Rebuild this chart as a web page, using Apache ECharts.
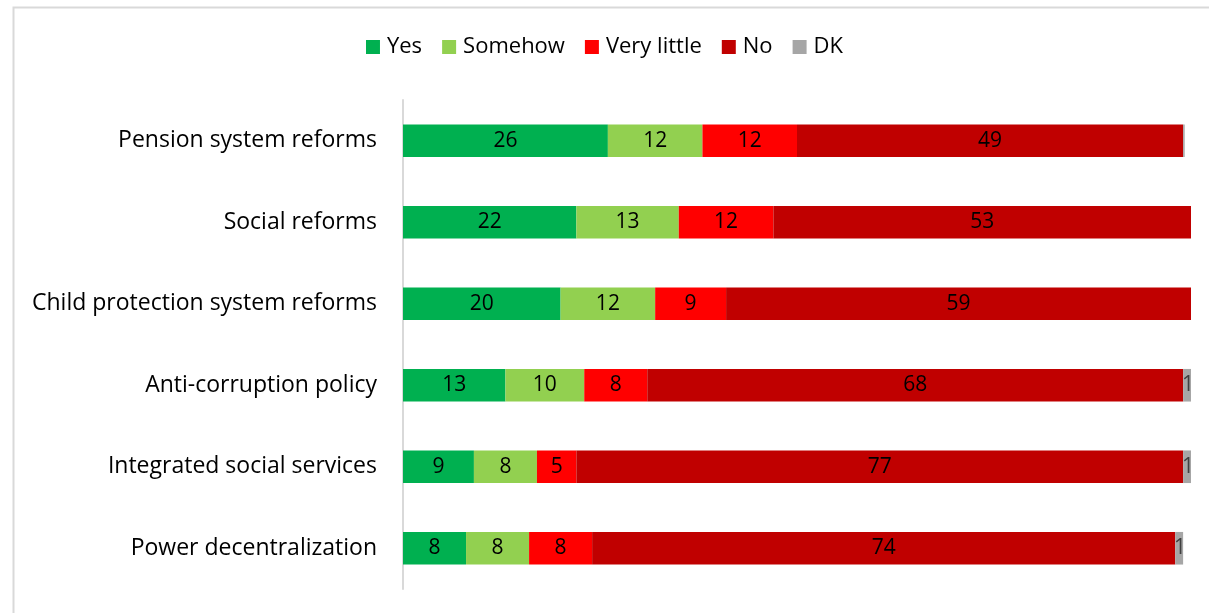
<!DOCTYPE html>
<html>
<head>
<meta charset="utf-8">
<script src="https://cdn.jsdelivr.net/npm/echarts@6/dist/echarts.min.js"></script>
<style>
  html, body { margin: 0; padding: 0; background: #ffffff; }
  #chart { width: 1209px; height: 613px; }
</style>
</head>
<body>
<div id="chart"></div>
<script>
// Survey results, share of respondents (%), top to bottom
const categories = [
  'Pension system reforms',
  'Social reforms',
  'Child protection system reforms',
  'Anti-corruption policy',
  'Integrated social services',
  'Power decentralization'
];
const seriesNames = ['Yes', 'Somehow', 'Very little', 'No', 'DK'];
const yesValues        = [26, 22, 20, 13, 9, 8];
const somehowValues    = [12, 13, 12, 10, 8, 8];
const veryLittleValues = [12, 12, 9, 8, 5, 8];
const noValues         = [49, 53, 59, 68, 77, 74];
const dkValues         = [0.2, 0.2, 0.2, 1, 1, 1];

const colors = ['#00B050', '#92D050', '#FF0000', '#C00000', '#A6A6A6'];
const allValues = [yesValues, somehowValues, veryLittleValues, noValues, dkValues];

const FONT = '"Open Sans", "Noto Sans", sans-serif';

const chart = echarts.init(document.getElementById('chart'), null, { renderer: 'canvas' });

const series = seriesNames.map((name, i) => ({
  name: name,
  type: 'bar',
  stack: 'total',
  barCategoryGap: '60%',
  itemStyle: { color: colors[i] },
  label: {
    show: true,
    position: i === 4 ? 'insideRight' : 'inside',
    offset: i === 4 ? [8, 0] : [0, 0],
    color: i === 4 ? '#404040' : '#000000',
    fontFamily: FONT,
    fontSize: 21,
    formatter: p => (p.value >= 0.5 ? String(Math.round(p.value)) : '')
  },
  emphasis: { disabled: true },
  data: allValues[i].slice().reverse()
}));

chart.setOption({
  animation: false,
  backgroundColor: '#ffffff',
  graphic: [{
    type: 'rect',
    left: 11, top: 5,
    shape: { width: 1300, height: 700 },
    style: { fill: 'none', stroke: '#d9d9d9', lineWidth: 2 },
    silent: true
  }],
  legend: {
    data: seriesNames,
    top: 31,
    left: 'center',
    itemWidth: 14,
    itemHeight: 14,
    itemGap: 20,
    icon: 'rect',
    textStyle: { fontFamily: FONT, fontSize: 22, color: '#000000', padding: [0, 0, 0, 2] }
  },
  grid: { left: 403, right: 18, top: 100, bottom: 24, containLabel: false },
  xAxis: {
    type: 'value',
    min: 0,
    max: 100,
    show: false
  },
  yAxis: {
    type: 'category',
    data: categories.slice().reverse(),
    axisLine: { show: true, lineStyle: { color: '#d9d9d9', width: 2 } },
    axisTick: { show: false },
    axisLabel: {
      fontFamily: FONT,
      fontSize: 23,
      color: '#000000',
      margin: 26
    }
  },
  series: series
});
</script>
</body>
</html>
